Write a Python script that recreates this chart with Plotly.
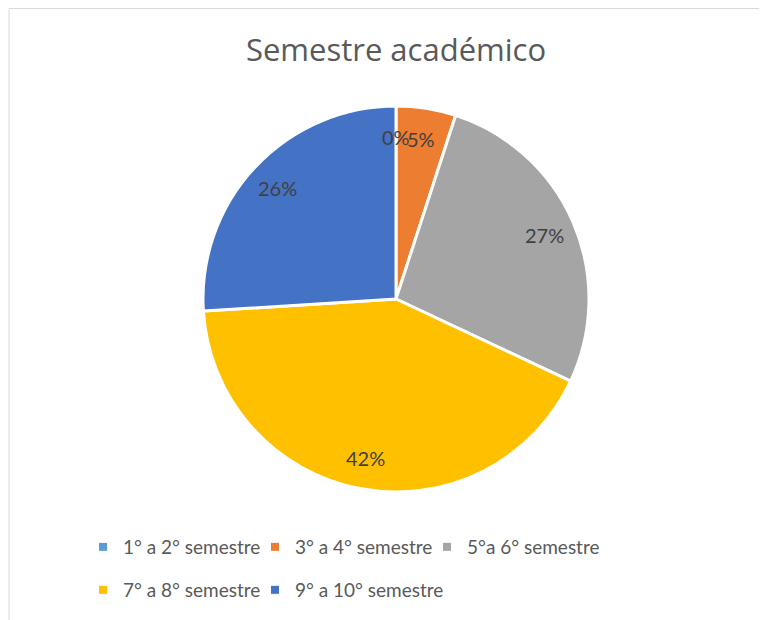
import math
import plotly.graph_objects as go

labels = ["1° a 2° semestre", "3° a 4° semestre", "5°a 6° semestre", "7° a 8° semestre", "9° a 10° semestre"]
values = [0, 5, 27, 42, 26]
colors = ["#5B9BD5", "#ED7D31", "#A5A5A5", "#FFC000", "#4472C4"]
title_text = "Semestre académico"

W, H = 767, 620
# page has an 8px body offset; coordinates below are in figure pixels
CX, CY, R = 388, 291, 193
FONT = "Lato"

fig = go.Figure()
fig.add_trace(go.Pie(
    labels=labels, values=values, sort=False, direction="clockwise", rotation=0,
    marker=dict(colors=colors, line=dict(color="white", width=3)),
    textinfo="none", hoverinfo="label+percent", showlegend=False,
    domain=dict(x=[(CX - R) / W, (CX + R) / W], y=[1 - (CY + R) / H, 1 - (CY - R) / H]),
))

# legend rows: first three items, then the remaining two
legend_of = ["legend", "legend", "legend", "legend2", "legend3"]
for lab, col, lg in zip(labels, colors, legend_of):
    fig.add_trace(go.Scatter(
        x=[None], y=[None], mode="markers", name=lab,
        marker=dict(symbol="square", size=8, color=col),
        legend=lg,
    ))

# percentage labels placed along slice mid-angles
total = sum(values)
cum = 0
annotations = []
for v in values:
    mid = (cum + v / 2) / total * 2 * math.pi
    cum += v
    f = 0.84
    px = CX + f * R * math.sin(mid)
    py = CY - f * R * math.cos(mid)
    annotations.append(dict(
        x=px / W, y=1 - py / H, xref="paper", yref="paper", showarrow=False,
        text=f"{round(v / total * 100)}%", font=dict(family=FONT, size=20, color="#404040"),
        xanchor="center", yanchor="middle",
    ))

leg_common = dict(orientation="h", xanchor="left", yanchor="middle",
                  font=dict(family=FONT, size=19, color="#595959"), bgcolor="rgba(0,0,0,0)")
LX = 75
fig.update_layout(
    width=W, height=H, margin=dict(l=0, r=0, t=0, b=0),
    paper_bgcolor="white", plot_bgcolor="white",
    title=dict(text=title_text, x=CX / W, xanchor="center", y=1 - 42 / H, yanchor="middle",
               font=dict(family="Open Sans", size=31, color="#595959")),
    xaxis=dict(visible=False), yaxis=dict(visible=False),
    legend=dict(x=LX / W, y=1 - 539 / H, entrywidth=127, **leg_common),
    legend2=dict(x=LX / W, y=1 - 582 / H, **leg_common),
    legend3=dict(x=(LX + 172) / W, y=1 - 582 / H, **leg_common),
    annotations=annotations,
    shapes=[
        dict(type="line", xref="paper", yref="paper", x0=1 / W, x1=1, y0=1 - 0.5 / H, y1=1 - 0.5 / H,
             line=dict(color="#D9D9D9", width=1)),
        dict(type="line", xref="paper", yref="paper", x0=1 / W, x1=1 / W, y0=0, y1=1 - 0.5 / H,
             line=dict(color="#D9D9D9", width=1)),
    ],
)

fig.write_html("out.html")
